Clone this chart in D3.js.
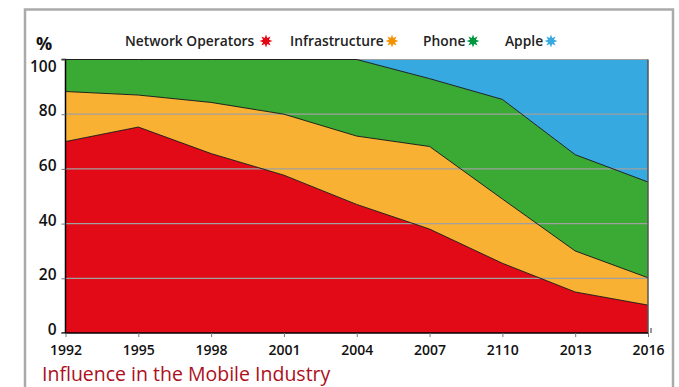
<!DOCTYPE html>
<html><head><meta charset="utf-8">
<script src="https://cdn.jsdelivr.net/npm/d3@7/dist/d3.min.js"></script>
<style>
html,body{margin:0;padding:0;background:#fff;}
svg text{font-family:"Open Sans",sans-serif;}
</style></head>
<body><svg id="c" width="679" height="387"></svg>
<script>
const years = ["1992","1995","1998","2001","2004","2007","2110","2013","2016"];
const networkOperators = [70, 75.3, 65.6, 57.7, 47, 38, 25.5, 15, 10.2];
const infrastructure  = [18.3, 11.7, 18.7, 22.3, 25, 30.2, 23.5, 15, 10];
const phone           = [11.7, 13, 15.7, 20, 28, 24.8, 36.4, 35.2, 35];
const apple           = [0, 0, 0, 0, 0, 7.2, 14.6, 34.8, 44.8];
const seriesNames = ["Network Operators","Infrastructure","Phone","Apple"];
const areaColors = ["#e20a16","#f8b133","#3aaa35","#36a9e0"];
const starColors = ["#e30613","#f39200","#009640","#36a9e1"];
const yTicks = [0,20,40,60,80,100];

const svg = d3.select("#c");
const m = {l:65.5, r:648, t:59.5, b:333};
const x = d3.scalePoint().domain(years).range([m.l, m.r]);
const y = d3.scaleLinear().domain([0,100]).range([m.b, m.t]);

// frame
svg.append("rect").attr("x",25).attr("y",9.5).attr("width",648).attr("height",400)
  .attr("fill","none").attr("stroke","#aaa").attr("stroke-width",2.5);

const rows = years.map((yr,i)=>({year:yr, "Network Operators":networkOperators[i],
  "Infrastructure":infrastructure[i], "Phone":phone[i], "Apple":apple[i]}));
const stack = d3.stack().keys(seriesNames)(rows);
const area = d3.area().x(d=>x(d.data.year)).y0(d=>y(d[0])).y1(d=>y(d[1]));
const line = d3.line().x(d=>x(d.data.year)).y(d=>y(d[1]));

svg.append("g").selectAll("path").data(stack).join("path")
  .attr("d",area).attr("fill",(d,i)=>areaColors[i]);

// gridlines
svg.append("g").selectAll("line").data(yTicks.filter(t=>t>0)).join("line")
  .attr("x1",m.l).attr("x2",m.r).attr("y1",d=>y(d)).attr("y2",d=>y(d))
  .attr("stroke","#a0a0a0").attr("stroke-width",1.2);

// boundary lines
svg.append("g").selectAll("path").data(stack.slice(0,3)).join("path")
  .attr("d",line).attr("fill","none").attr("stroke","#111").attr("stroke-width",0.9);
svg.append("line").attr("x1",m.r).attr("x2",m.r).attr("y1",m.t).attr("y2",m.b)
  .attr("stroke","#555").attr("stroke-width",1.5);

// y axis
const yAxis = d3.axisLeft(y).tickValues(yTicks).tickSize(4).tickPadding(5);
const gy = svg.append("g").attr("transform",`translate(${m.l},0)`).call(yAxis);
gy.select(".domain").attr("stroke","#000").attr("stroke-width",1.5).attr("d",`M-4,${m.t}H0V${m.b}H-4`);
gy.selectAll(".tick line").attr("stroke","#777");
gy.selectAll("text").attr("font-size","15.5px").attr("font-weight",600).attr("fill","#111")
  .attr("dy",d=>d===100?"0.75em":"0.1em");

// x axis
const xAxis = d3.axisBottom(x).tickSize(4).tickPadding(8);
const gx = svg.append("g").attr("transform",`translate(0,${m.b})`).call(xAxis);
gx.select(".domain").attr("stroke","#000").attr("stroke-width",1.5).attr("d",`M${m.l},0H${m.r}`);
gx.selectAll(".tick line").attr("stroke","#777");
gx.selectAll("text").attr("font-size","14px").attr("font-weight",600).attr("fill","#111");
svg.append("path").attr("d",`M${m.r+3},${m.b-5}V${m.b}`).attr("stroke","#333").attr("stroke-width",1);

// % label
svg.append("text").attr("x",36).attr("y",50).text("%")
  .attr("font-size","18px").attr("font-weight",700).attr("fill","#111");

// legend
const legendX = [125, 290, 423, 505];
const starX = [266, 392, 473, 551];
function starPath(r1, r2, n){
  const pts = d3.range(n*2).map(k=>{const a=k*Math.PI/n; const r=k%2?r2:r1; return [r*Math.sin(a), -r*Math.cos(a)];});
  return "M"+pts.map(p=>p.join(",")).join("L")+"Z";
}
const lg = svg.append("g");
seriesNames.forEach((s,i)=>{
  lg.append("text").attr("x",legendX[i]).attr("y",46).text(s)
    .attr("font-size","13.8px").attr("font-weight",600).attr("fill","#222");
  lg.append("path").attr("d",starPath(6.5,3.2,8)).attr("transform",`translate(${starX[i]},41)`)
    .attr("fill",starColors[i]);
});

// title
svg.append("text").attr("x",42).attr("y",381).text("Influence in the Mobile Industry")
  .attr("font-size","19.5px").attr("font-weight",500).attr("fill","#ad0f1c");
</script></body></html>
